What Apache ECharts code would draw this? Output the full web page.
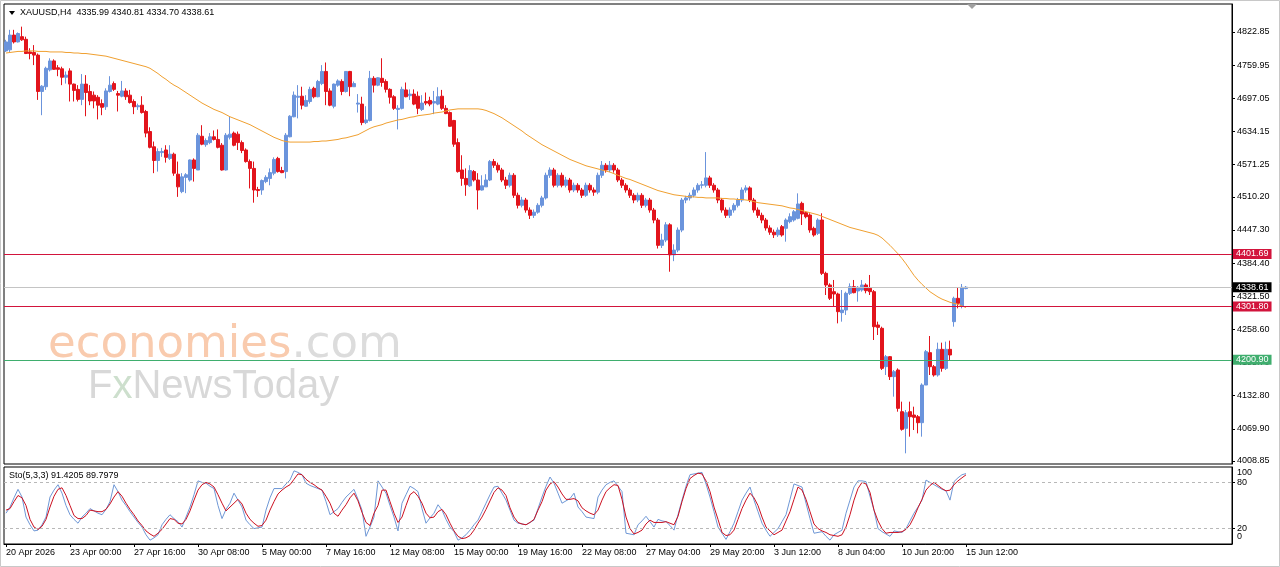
<!DOCTYPE html>
<html>
<head>
<meta charset="utf-8">
<script src="https://cdn.jsdelivr.net/npm/echarts@6/dist/echarts.min.js"></script>
<style>
  html, body { margin: 0; padding: 0; background: #fff; }
  #main { width: 1280px; height: 567px; }
</style>
</head>
<body>
<div id="main"></div>
<script>
// trading sessions (day, first H4 slot, last H4 slot)
const tradingDays = [
  ['20 Apr', 2, 5], ['21 Apr', 0, 5], ['22 Apr', 0, 5], ['23 Apr', 0, 5], ['24 Apr', 0, 5],
  ['27 Apr', 0, 5], ['28 Apr', 0, 5], ['29 Apr', 0, 5], ['30 Apr', 0, 5], ['1 May', 0, 5],
  ['4 May', 0, 5], ['5 May', 0, 5], ['6 May', 0, 5], ['7 May', 0, 5], ['8 May', 0, 5],
  ['11 May', 0, 5], ['12 May', 0, 5], ['13 May', 0, 5], ['14 May', 0, 5], ['15 May', 0, 5],
  ['18 May', 0, 5], ['19 May', 0, 5], ['20 May', 0, 5], ['21 May', 0, 5], ['22 May', 0, 5],
  ['25 May', 0, 4], ['26 May', 0, 5], ['27 May', 0, 5], ['28 May', 0, 5], ['29 May', 0, 5],
  ['1 Jun', 0, 5], ['2 Jun', 0, 5], ['3 Jun', 0, 5], ['4 Jun', 0, 5], ['5 Jun', 0, 5],
  ['8 Jun', 0, 5], ['9 Jun', 0, 5], ['10 Jun', 0, 5], ['11 Jun', 0, 5], ['12 Jun', 0, 5],
  ['15 Jun', 0, 3]
];
const barHours = ['00:00', '04:00', '08:00', '12:00', '16:00', '20:00'];
const firstLabel = '20 Apr 2026';
const emptySlots = 66;

// [open, close, low, high]
const candles = [
  [4787,4804,4785,4808],[4789,4817,4785,4827],[4817,4804,4801,4827],[4804,4820,4803,4822],[4814,4808,4806,4833],
  [4809,4782,4781,4814],[4785,4782,4771,4792],[4784,4779,4760,4798],[4779,4710,4694,4782],[4710,4720,4665,4722],
  [4719,4754,4713,4757],[4751,4768,4748,4773],[4768,4752,4751,4771],[4755,4752,4739,4760],[4753,4737,4722,4757],
  [4737,4741,4725,4748],[4749,4724,4691,4754],[4724,4712,4691,4725],[4714,4695,4691,4722],[4695,4724,4684,4743],
  [4724,4708,4663,4741],[4710,4692,4684,4722],[4703,4692,4678,4710],[4699,4684,4657,4703],[4687,4680,4665,4695],
  [4681,4711,4675,4716],[4710,4722,4708,4739],[4725,4714,4711,4729],[4706,4703,4672,4711],[4701,4711,4699,4730],
  [4711,4700,4694,4716],[4703,4689,4687,4713],[4691,4681,4667,4695],[4681,4683,4675,4687],[4684,4670,4668,4701],
  [4672,4631,4623,4675],[4634,4604,4602,4642],[4605,4579,4555,4615],[4579,4596,4558,4602],[4594,4596,4586,4603],
  [4599,4585,4575,4608],[4583,4591,4580,4608],[4591,4555,4550,4594],[4553,4529,4510,4577],[4520,4548,4517,4555],
  [4547,4552,4517,4555],[4542,4580,4539,4581],[4580,4564,4539,4583],[4561,4627,4561,4631],[4625,4610,4608,4646],
  [4609,4617,4605,4621],[4613,4624,4610,4631],[4624,4619,4617,4636],[4619,4604,4602,4638],[4608,4561,4560,4612],
  [4561,4627,4560,4631],[4623,4629,4619,4662],[4631,4608,4606,4634],[4629,4613,4599,4634],[4613,4598,4593,4617],
  [4599,4577,4575,4602],[4577,4564,4526,4581],[4564,4523,4499,4577],[4524,4522,4510,4529],[4523,4541,4514,4543],
  [4539,4547,4536,4551],[4545,4556,4532,4564],[4555,4581,4551,4585],[4583,4558,4556,4586],[4560,4556,4555,4567],
  [4558,4627,4545,4631],[4624,4663,4623,4665],[4662,4703,4661,4710],[4699,4701,4659,4722],[4701,4684,4676,4719],
  [4682,4693,4681,4703],[4691,4714,4687,4719],[4716,4700,4697,4719],[4700,4729,4699,4732],[4725,4748,4722,4760],
  [4748,4710,4684,4765],[4711,4684,4682,4716],[4682,4724,4678,4725],[4722,4730,4719,4733],[4729,4710,4703,4733],
  [4710,4748,4708,4748],[4748,4719,4701,4749],[4719,4725,4719,4729],[4686,4688,4670,4705],[4686,4651,4646,4700],
  [4651,4656,4648,4682],[4655,4735,4653,4749],[4735,4722,4708,4739],[4722,4736,4720,4737],[4735,4727,4719,4773],
  [4729,4714,4708,4733],[4714,4699,4687,4716],[4700,4678,4675,4703],[4676,4678,4638,4684],[4678,4714,4676,4719],
  [4713,4700,4699,4727],[4702,4705,4694,4714],[4705,4686,4684,4714],[4701,4678,4667,4710],[4676,4688,4673,4703],
  [4691,4688,4684,4708],[4693,4686,4682,4700],[4688,4691,4667,4711],[4686,4700,4684,4718],[4701,4678,4675,4713],
  [4678,4668,4667,4684],[4670,4644,4643,4672],[4655,4610,4605,4656],[4613,4558,4556,4621],[4561,4545,4531,4589],
  [4545,4533,4512,4564],[4531,4560,4529,4570],[4558,4542,4539,4561],[4542,4523,4486,4555],[4523,4531,4522,4551],
  [4529,4542,4529,4553],[4542,4577,4540,4580],[4577,4570,4565,4582],[4570,4561,4556,4575],[4561,4542,4538,4565],
  [4542,4532,4525,4548],[4532,4551,4528,4556],[4551,4513,4508,4555],[4513,4494,4488,4518],[4494,4504,4490,4510],
  [4504,4485,4480,4508],[4485,4475,4468,4490],[4475,4481,4470,4486],[4481,4494,4478,4498],[4494,4508,4490,4512],
  [4508,4551,4505,4556],[4551,4561,4546,4566],[4561,4532,4528,4565],[4532,4551,4528,4555],[4551,4532,4528,4556],
  [4532,4542,4528,4548],[4542,4523,4518,4546],[4523,4532,4519,4537],[4532,4523,4518,4536],[4523,4513,4508,4527],
  [4513,4532,4510,4537],[4532,4523,4518,4536],[4523,4519,4512,4528],[4519,4551,4515,4556],[4551,4570,4546,4578],
  [4570,4561,4556,4574],[4561,4570,4557,4578],[4570,4561,4556,4574],[4561,4542,4538,4565],[4542,4532,4527,4546],
  [4532,4523,4518,4536],[4523,4513,4508,4527],[4513,4504,4498,4517],[4504,4513,4500,4518],[4513,4494,4489,4517],
  [4494,4504,4490,4508],[4504,4485,4480,4508],[4485,4466,4460,4489],[4466,4418,4412,4470],[4418,4428,4413,4440],
  [4428,4457,4424,4462],[4457,4400,4368,4460],[4400,4409,4388,4420],[4409,4447,4405,4452],[4447,4504,4443,4508],
  [4504,4508,4498,4512],[4508,4513,4503,4518],[4513,4523,4509,4528],[4523,4532,4518,4536],[4532,4533,4526,4540],
  [4532,4546,4528,4595],[4546,4532,4527,4550],[4532,4523,4518,4536],[4523,4504,4498,4527],[4504,4485,4480,4508],
  [4485,4475,4470,4490],[4475,4485,4470,4490],[4485,4494,4480,4498],[4494,4504,4490,4508],[4504,4523,4500,4528],
  [4523,4527,4518,4532],[4527,4504,4500,4530],[4504,4485,4480,4508],[4485,4475,4470,4490],[4475,4466,4460,4480],
  [4466,4451,4446,4470],[4451,4443,4438,4456],[4443,4438,4432,4448],[4438,4447,4434,4452],[4453.5,4437.6,4434.5,4456.6],
  [4450.3,4466.1,4425.0,4469.3],[4463.0,4472.4,4459.8,4478.8],[4466.1,4481.9,4463.0,4485.1],[4469.3,4496.5,4467.4,4516.7],[4497.7,4477.5,4456.6,4500.9],
  [4480.0,4472.4,4469.3,4482.0],[4475.6,4447.1,4442.0,4478.8],[4450.3,4437.6,4434.5,4453.5],[4440.8,4466.1,4437.6,4469.3],[4466.1,4364.9,4361.8,4478.8],
  [4364.9,4342.8,4323.8,4368.0],[4342.8,4317.5,4314.3,4346.0],[4330.1,4325.7,4301.7,4352.3],[4325.7,4292.2,4270.0,4328.2],[4290.3,4295.3,4273.2,4333.3],
  [4295.3,4327.0,4285.9,4330.1],[4327.0,4339.6,4323.8,4345.9],[4339.6,4328.2,4327.0,4352.3],[4331.4,4338.4,4311.2,4340.9],[4333.3,4342.8,4330.1,4352.3],
  [4342.8,4332.0,4327.0,4345.9],[4336.5,4330.1,4323.8,4361.8],[4330.1,4263.7,4238.4,4333.3],[4266.9,4262.4,4247.9,4273.2],[4260.6,4184.6,4181.5,4263.7],
  [4187.8,4206.8,4172.0,4210.0],[4206.8,4168.9,4162.5,4208.0],[4168.9,4178.3,4130.9,4181.5],[4181.5,4108.7,4102.4,4184.6],[4102.4,4068.9,4066.4,4121.4],
  [4070.8,4100.5,4023.4,4105.6],[4102.4,4092.9,4055.0,4121.4],[4096.1,4091.7,4067.6,4111.9],[4092.9,4081.5,4061.3,4096.1],[4081.5,4153.0,4055.0,4156.2],
  [4153.0,4216.3,4153.0,4219.5],[4214.4,4187.8,4172.0,4246.0],[4187.8,4172.0,4168.9,4191.0],[4172.0,4220.7,4168.9,4233.4],[4220.7,4184.6,4178.3,4233.4],
  [4184.6,4220.7,4181.5,4235.3],[4220.7,4210.0,4200.5,4237.2],[4273.2,4317.5,4263.7,4320.6],[4317.5,4308.0,4298.5,4338.4],[4302.9,4338.4,4298.5,4344.7],
  [4335.99,4338.61,4334.70,4340.81]
];

// moving average (orange)
const maLine = [
  4783,4784,4785,4786,4786,4787,4787,4787,4786,4786,4786,4785,4785,4785,4785,4784,4784,4783,4783,4782,
  4782,4781,4780,4779,4778,4777,4775,4773,4771,4769,4767,4765,4763,4761,4759,4757,4754,4749,4744,4738,
  4733,4727,4722,4718,4713,4708,4703,4698,4693,4688,4684,4680,4676,4673,4670,4666,4662,4659,4656,4653,
  4650,4647,4643,4639,4635,4631,4627,4623,4620,4617,4615,4614,4614,4614,4614,4614,4614,4615,4615,4616,
  4616,4617,4618,4619,4621,4622,4624,4626,4628,4632,4636,4640,4643,4645,4647,4650,4652,4654,4656,4657,
  4659,4661,4662,4664,4665,4666,4667,4669,4670,4671,4673,4675,4676,4677,4677,4677,4677,4677,4677,4676,
  4674,4671,4668,4664,4660,4655,4650,4645,4640,4635,4629,4624,4619,4614,4609,4605,4601,4597,4593,4589,
  4585,4581,4578,4575,4572,4569,4567,4565,4563,4561,4559,4557,4554,4551,4548,4545,4543,4540,4537,4534,
  4531,4528,4525,4522,4520,4518,4516,4514,4513,4512,4511,4510,4510,4509,4509,4508,4508,4508,4508,4507,
  4507,4506,4506,4505,4505,4504,4503,4501,4499,4498,4497,4496,4495,4494,4493,4491,4489,4488,4486,4484,
  4482,4480,4478,4476,4473,4470,4467,4464,4461,4458,4455,4452,4450,4448,4446,4444,4442,4440,4437,4432,
  4425,4418,4410,4402,4393,4383,4372,4361,4352,4344,4337,4330,4325,4320,4316,4313,4310,4308,4306,4303,
  4300
];

// stochastic %K (blue) and %D (red)
const stochK = [
  40,48,60,71,61,35,25,17,18,25,35,61,70,77,66,50,38,32,27,35,
  40,46,43,40,38,45,55,77,68,57,50,42,35,28,22,12,5,8,12,25,
  32,38,33,29,22,35,48,64,82,80,79,75,72,50,33,45,53,66,57,48,
  31,25,20,21,22,44,60,72,72,72,78,83,95,93,90,79,76,74,72,70,
  55,38,42,46,54,61,66,71,58,44,10,22,35,82,74,66,50,35,17,53,
  64,75,72,68,46,27,34,40,51,44,32,22,16,5,8,12,18,25,31,42,
  53,64,74,75,66,57,44,31,27,26,25,28,31,46,61,75,87,79,66,53,
  56,59,66,48,42,35,34,33,61,70,77,80,82,75,68,14,13,12,25,30,
  36,29,22,32,30,29,24,18,38,57,75,90,91,92,93,78,61,42,22,14,
  6,16,27,42,57,66,74,57,42,27,18,10,15,20,29,38,58,78,76,74,
  53,33,14,15,16,10,5,12,15,18,40,57,74,82,82,81,62,44,20,16,
  13,10,17,16,15,20,30,40,48,57,83,80,77,74,71,69,57,81,86,90,
  91.4205
];
const stochD = [
  44,46,55,63,60,50,32,22,19,23,32,48,62,71,73,63,50,37,33,33,
  37,44,43,42,42,45,52,61,68,62,53,45,38,30,24,17,13,10,14,19,
  26,33,32,27,26,32,43,57,70,77,80,78,74,64,53,43,48,53,58,52,
  40,32,27,23,24,31,44,55,65,70,74,77,84,91,90,84,80,77,73,70,
  62,53,40,36,44,51,60,66,56,41,28,24,40,50,70,70,55,40,28,35,
  50,64,68,62,53,40,34,35,42,45,38,27,17,10,7,8,11,18,27,35,
  45,56,67,73,70,63,47,35,28,26,25,28,32,44,55,70,78,81,74,65,
  58,58,59,56,47,43,40,38,44,57,68,73,77,76,58,35,20,13,15,18,
  26,31,28,28,28,29,27,25,36,55,72,85,89,92,91,82,68,48,32,15,
  11,12,18,32,46,57,66,60,50,35,22,17,12,15,18,30,42,58,74,70,
  58,42,26,20,17,15,12,11,10,12,22,38,57,72,80,78,67,44,30,20,
  14,15,15,15,16,19,25,35,47,58,70,76,80,76,72,69,70,77,82,86,
  89.7979
];

const priceTicks = [4822.85, 4759.95, 4697.05, 4634.15, 4571.25, 4510.20, 4447.30,
  4384.40, 4321.50, 4258.60, 4195.70, 4132.80, 4069.90, 4008.85];
const levelValues = [4401.69, 4338.61, 4301.80, 4200.90];
const stochLevels = [80, 20];
const stochEnds = ['100', '0'];

// ---------------------------------------------------------------
const FONT = '"Liberation Sans", Arial, sans-serif';
const BULL = '#6b94dc';
const BEAR = '#e2141c';
const levelStyle = [
  { line: '#d2143c', bg: '#d2143c' },
  { line: '#c4c4c4', bg: '#000000' },
  { line: '#d2143c', bg: '#d2143c' },
  { line: '#3fae6e', bg: '#3fae6e' }
];

const categories = [];
tradingDays.forEach(([day, from, to]) => {
  for (let h = from; h <= to; h++) categories.push(day + ' ' + barHours[h]);
});
for (let i = 0; i < emptySlots; i++) categories.push('');

const showDate = (idx) => idx === 0 || (idx % 16 === 0 && idx < candles.length);

const last = candles[candles.length - 1];
const headerText = 'XAUUSD,H4  ' + [last[0], last[3], last[2], last[1]].map(v => v.toFixed(2)).join(' ');
const stochText = 'Sto(5,3,3) ' + stochK[stochK.length - 1].toFixed(4) + ' ' + stochD[stochD.length - 1].toFixed(4);

const chart = echarts.init(document.getElementById('main'), null, { renderer: 'canvas' });

chart.setOption({
  animation: false,
  backgroundColor: '#ffffff',
  textStyle: { fontFamily: FONT },
  grid: [
    { left: 4, top: 4, width: 1228, height: 460, show: true, borderColor: '#000', borderWidth: 1, backgroundColor: '#fff' },
    { left: 4, top: 467, width: 1228, height: 77, show: true, borderColor: '#000', borderWidth: 1, backgroundColor: '#fff' }
  ],
  xAxis: [
    {
      gridIndex: 0, type: 'category', data: categories, boundaryGap: true,
      axisLine: { show: false }, axisTick: { show: false }, axisLabel: { show: false }, splitLine: { show: false }
    },
    {
      gridIndex: 1, type: 'category', data: categories, boundaryGap: true,
      axisLine: { show: true, lineStyle: { color: '#000', width: 1 } },
      axisTick: { show: true, alignWithLabel: true, interval: (i) => showDate(i), length: 3, lineStyle: { color: '#000' } },
      axisLabel: {
        show: true, interval: (i) => showDate(i), align: 'left', margin: 4,
        fontSize: 9, color: '#000', fontFamily: FONT,
        formatter: (v, i) => (i === 0 ? firstLabel : v)
      },
      splitLine: { show: false }
    }
  ],
  yAxis: [
    {
      gridIndex: 0, type: 'value', position: 'right', min: 4003.13, max: 4875.98,
      axisLine: { show: true, lineStyle: { color: '#000' } },
      axisTick: { show: true, customValues: priceTicks, length: 3, lineStyle: { color: '#000' } },
      axisLabel: { customValues: priceTicks, formatter: (v) => v.toFixed(2), fontSize: 9, color: '#000', margin: 5, fontFamily: FONT },
      splitLine: { show: false }
    },
    {
      gridIndex: 1, type: 'value', position: 'right', min: 0, max: 100,
      axisLine: { show: true, lineStyle: { color: '#000' } },
      axisTick: { show: true, customValues: stochLevels, length: 3, lineStyle: { color: '#000' } },
      axisLabel: { customValues: stochLevels, fontSize: 9, color: '#000', margin: 5, fontFamily: FONT },
      splitLine: { show: false }
    }
  ],
  series: [
    {
      type: 'candlestick', xAxisIndex: 0, yAxisIndex: 0, data: candles, barWidth: 3,
      itemStyle: { color: BULL, color0: BEAR, borderColor: BULL, borderColor0: BEAR, borderWidth: 1 },
      markLine: {
        symbol: 'none', silent: true, animation: false,
        data: levelValues.map((v, i) => ({
          yAxis: v,
          lineStyle: { color: levelStyle[i].line, width: 1, type: 'solid' },
          label: {
            show: true, position: 'end', distance: 1, formatter: v.toFixed(2),
            color: '#fff', backgroundColor: levelStyle[i].bg, padding: [1, 3, 0, 3],
            fontSize: 9, fontFamily: FONT
          }
        }))
      },
      z: 3
    },
    {
      type: 'line', xAxisIndex: 0, yAxisIndex: 0, data: maLine, showSymbol: false,
      lineStyle: { color: '#f0a030', width: 1 }, z: 4
    },
    {
      type: 'line', xAxisIndex: 1, yAxisIndex: 1, data: stochK, showSymbol: false,
      lineStyle: { color: '#6f98d6', width: 1 }, z: 3,
      markLine: {
        symbol: 'none', silent: true, animation: false, label: { show: false },
        lineStyle: { color: '#b8b8b8', type: [3, 3], width: 1 },
        data: stochLevels.map(v => ({ yAxis: v }))
      }
    },
    {
      type: 'line', xAxisIndex: 1, yAxisIndex: 1, data: stochD, showSymbol: false,
      lineStyle: { color: '#cc1020', width: 1 }, z: 4
    }
  ],
  graphic: [
    { type: 'rect', shape: { x: 0.5, y: 0.5, width: 1279, height: 566 }, style: { fill: 'none', stroke: '#c8c8c8', lineWidth: 1 }, silent: true },
    { type: 'polygon', shape: { points: [[9, 11], [15, 11], [12, 15]] }, style: { fill: '#000' }, silent: true },
    { type: 'text', x: 20, y: 13, style: { text: headerText, fontSize: 9, fontFamily: FONT, fill: '#000', verticalAlign: 'middle' }, silent: true },
    { type: 'polygon', shape: { points: [[967, 4], [977, 4], [972, 9]] }, style: { fill: '#a0a0a0' }, silent: true },
    { type: 'text', x: 9, y: 476, style: { text: stochText, fontSize: 9, fontFamily: FONT, fill: '#000', verticalAlign: 'middle' }, silent: true },
    { type: 'text', x: 1237, y: 473, style: { text: stochEnds[0], fontSize: 9, fontFamily: FONT, fill: '#000', verticalAlign: 'middle' }, silent: true },
    { type: 'text', x: 1237, y: 537, style: { text: stochEnds[1], fontSize: 9, fontFamily: FONT, fill: '#000', verticalAlign: 'middle' }, silent: true },
    {
      type: 'text', x: 48, y: 345, z: 100, silent: true,
      style: {
        text: '{a|economies}{b|.com}', verticalAlign: 'middle',
        rich: {
          a: { fontSize: 45, fontFamily: '"DejaVu Sans", sans-serif', fill: '#f9cbae', color: '#f9cbae' },
          b: { fontSize: 45, fontFamily: '"DejaVu Sans", sans-serif', fill: '#dcdcdc', color: '#dcdcdc' }
        }
      }
    },
    {
      type: 'text', x: 88, y: 387, z: 100, silent: true,
      style: {
        text: '{a|F}{x|x}{a|NewsToday}', verticalAlign: 'middle',
        rich: {
          a: { fontSize: 40, fontFamily: FONT, fill: '#d8d8d8', color: '#d8d8d8' },
          x: { fontSize: 40, fontFamily: FONT, fill: '#cddfcd', color: '#cddfcd' }
        }
      }
    }
  ]
});
</script>
</body>
</html>
